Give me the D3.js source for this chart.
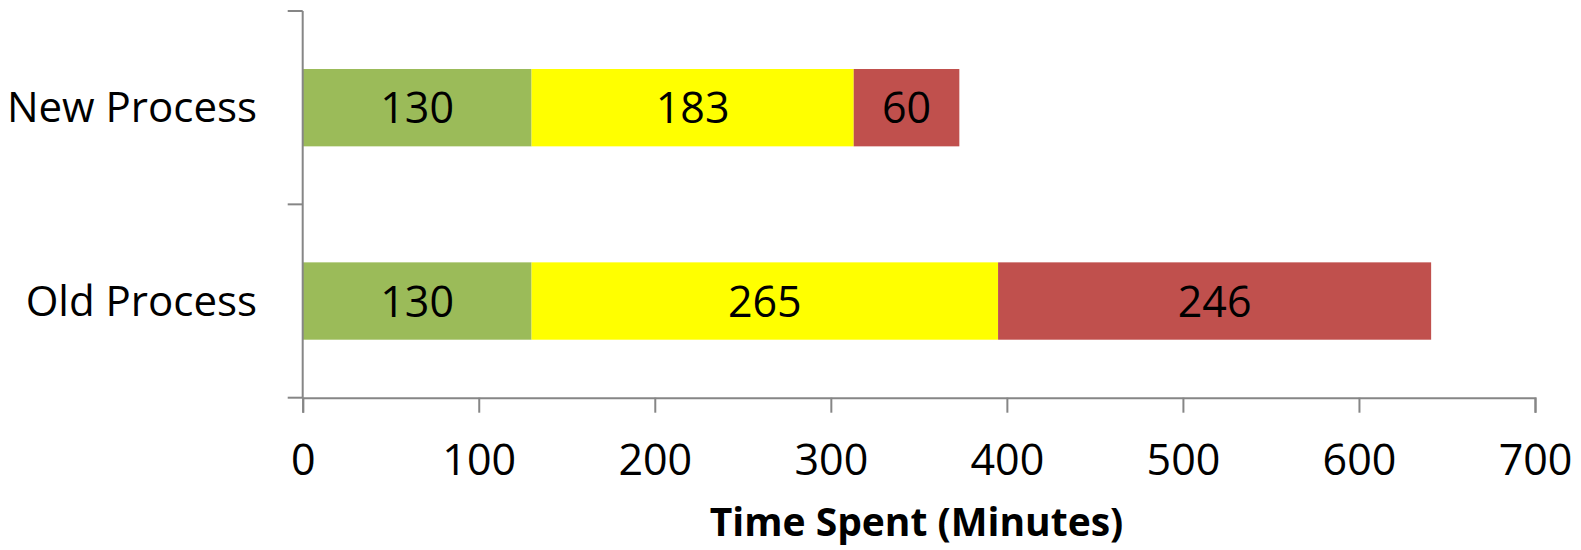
<!DOCTYPE html>
<html>
<head>
<meta charset="utf-8">
<script src="https://cdn.jsdelivr.net/npm/d3@7"></script>
<style>
  html, body { margin: 0; padding: 0; background: #fff; }
  svg { display: block; font-family: "Open Sans", "Noto Sans", sans-serif; }
</style>
</head>
<body>
<svg id="chart" width="1581" height="550"></svg>
<script>
const categories = ["New Process", "Old Process"];
const seriesColors = ["#9BBB59", "#FFFF00", "#C0504D"];
const phase1 = [130, 130];
const phase2 = [183, 265];
const phase3 = [60, 246];
const xTicks = [0, 100, 200, 300, 400, 500, 600, 700];
const xTitle = "Time Spent (Minutes)";

(function () {
const svg = d3.select("#chart");
const plotLeft = 302.7, plotRight = 1535, plotTop = 11, plotBottom = 397.7;
const axisColor = "#868686";

const x = d3.scaleLinear().domain([0, 700]).range([plotLeft, plotRight]);
const y = d3.scaleBand().domain(categories).range([plotTop, plotBottom]).paddingInner(0.6).paddingOuter(0.3);

const stackData = categories.map((c, i) => ({ cat: c, s0: phase1[i], s1: phase2[i], s2: phase3[i] }));
const stack = d3.stack().keys(["s0", "s1", "s2"])(stackData);

const g = svg.append("g");
stack.forEach((layer, si) => {
  g.selectAll(null).data(layer).enter().append("rect")
    .attr("x", d => x(d[0]))
    .attr("width", d => x(d[1]) - x(d[0]))
    .attr("y", d => y(d.data.cat))
    .attr("height", y.bandwidth())
    .attr("fill", seriesColors[si]);
  g.selectAll(null).data(layer).enter().append("text")
    .attr("x", d => (x(d[0]) + x(d[1])) / 2)
    .attr("y", d => y(d.data.cat) + y.bandwidth() / 2 + 15.5)
    .attr("text-anchor", "middle")
    .attr("font-size", 43)
    .attr("fill", "#000")
    .text(d => d[1] - d[0]);
});

// X axis
const xAxis = d3.axisBottom(x).tickValues(xTicks).tickSize(15).tickPadding(20).tickFormat(d3.format("d"));
const xg = svg.append("g").attr("transform", `translate(0,${plotBottom})`).call(xAxis);
xg.select(".domain").attr("stroke", axisColor).attr("stroke-width", 2);
xg.selectAll(".tick line").attr("stroke", axisColor).attr("stroke-width", 2);
xg.selectAll(".tick text").attr("font-size", 43).attr("fill", "#000")
  .attr("font-family", "'Open Sans', 'Noto Sans', sans-serif").attr("dy", 0).attr("y", 77.5);

// Y axis
const yb = [plotTop, y(categories[0]) + y.bandwidth() + y.step() * y.paddingInner() / 2, plotBottom];
svg.append("line").attr("x1", plotLeft).attr("x2", plotLeft).attr("y1", plotTop).attr("y2", plotBottom)
  .attr("stroke", axisColor).attr("stroke-width", 2);
svg.selectAll(null).data(yb).enter().append("line")
  .attr("x1", plotLeft - 15).attr("x2", plotLeft).attr("y1", d => d).attr("y2", d => d)
  .attr("stroke", axisColor).attr("stroke-width", 2);

svg.selectAll(null).data(categories).enter().append("text")
  .attr("x", 257)
  .attr("y", d => y(d) + y.bandwidth() / 2 + 14.5)
  .attr("text-anchor", "end")
  .attr("font-size", 42)
  .attr("fill", "#000")
  .text(d => d);

svg.append("text")
  .attr("x", (705 + 1128) / 2)
  .attr("y", 536)
  .attr("text-anchor", "middle")
  .attr("font-size", 39)
  .attr("font-weight", "bold")
  .attr("fill", "#000")
  .text(xTitle);
})();
</script>
</body>
</html>
